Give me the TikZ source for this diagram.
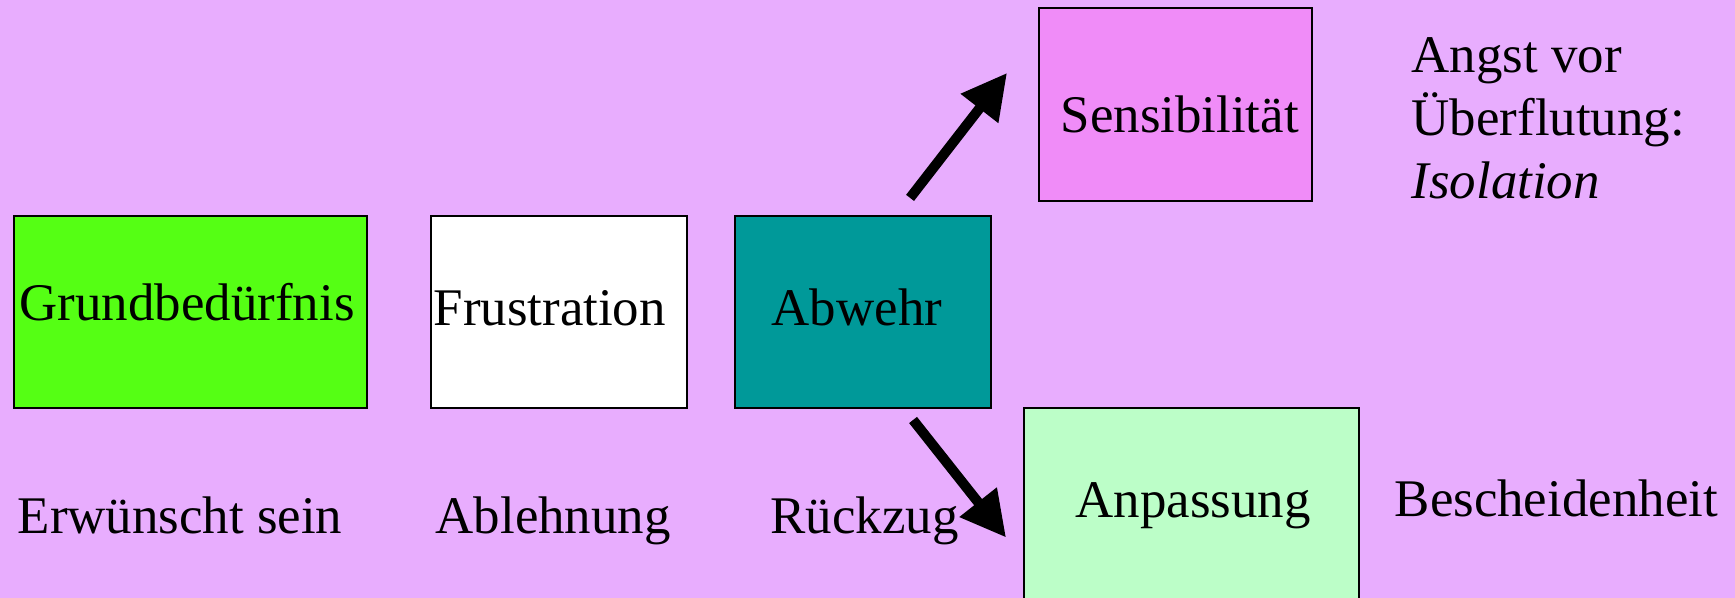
\documentclass[tikz,border=0pt]{standalone}
\usepackage{fontspec}
\setmainfont{Liberation Serif}
\usetikzlibrary{arrows.meta}

\definecolor{bgLilac}{HTML}{E8ADFE}
\definecolor{needGreen}{HTML}{55FF14}
\definecolor{defTeal}{HTML}{009999}
\definecolor{sensPink}{HTML}{F08CF8}
\definecolor{adaptGreen}{HTML}{BCFEC8}

\newcommand\picW{17.35}
\newcommand\picH{5.98}
\newcommand\boxHeight{1.92}
\newcommand\wideBox{3.53}
\newcommand\narrowBox{2.56}
\newcommand\rowBase{1.89}
\newcommand\txtSize{\fontsize{15.05}{17.9}\selectfont}

\tikzset{
  stage/.style={draw=black, line width=0.6pt, inner sep=0pt, anchor=south west, minimum height=\boxHeight cm},
  word/.style={font=\txtSize, inner sep=0pt, anchor=base west},
  bigarrow/.style={line width=2.85pt, -{Triangle[length=0.45cm,width=0.45cm]}}
}

\begin{document}
\begin{tikzpicture}
    \fill[bgLilac] (0,0) rectangle (\picW,\picH);
    \useasboundingbox (0,0) rectangle (\picW,\picH);

    % MIDDLE ROW
    \node[stage, fill=needGreen, minimum width=\wideBox cm] (grund) at (0.13,\rowBase) {};
    \node[stage, fill=white, minimum width=\narrowBox cm] (frus) at (4.30,\rowBase) {};
    \node[stage, fill=defTeal, minimum width=\narrowBox cm] (abwehr) at (7.34,\rowBase) {};

    \node[word] (grundTxt) at (0.19,2.77) {Grundbedürfnis};
    \node[word] (frusTxt) at (4.33,2.72) {Frustration};
    \node[word] (abwehrTxt) at (7.71,2.72) {Abwehr};

    % UPPER AND LOWER BRANCH
    \node[stage, fill=sensPink, minimum width=2.73cm, minimum height=1.93cm] (sens) at (10.38,3.96) {};
    \node[stage, fill=adaptGreen, minimum width=3.35cm, minimum height=1.99cm] (anp) at (10.23,-0.10) {};

    \node[word] (sensTxt) at (10.60,4.65) {Sensibilität};
    \node[word] (anpTxt) at (10.75,0.80) {Anpassung};

    % TEXT BELOW AND BESIDE
    \node[word] (wishTxt) at (0.17,0.64) {Erwünscht sein};
    \node[word] (rejectTxt) at (4.35,0.64) {Ablehnung};
    \node[word] (retreatTxt) at (7.70,0.64) {Rückzug};
    \node[word] (modestTxt) at (13.94,0.81) {Bescheidenheit};
    \node[font=\txtSize, inner sep=0pt, anchor=north west, align=left] (fearTxt) at (14.11,5.61) {Angst vor\\Überflutung:\\\textit{Isolation}};

    % ARROWS
    \coordinate (upStart) at ([shift={(0.47,0.17)}]abwehr.north);
    \coordinate (upEnd) at ([shift={(-0.31,0.315)}]sens.west);
    \coordinate (downStart) at ([shift={(0.50,-0.11)}]abwehr.south);
    \coordinate (downEnd) at ([shift={(-0.17,-0.30)}]anp.west);

    \draw[bigarrow] (upStart) -- (upEnd);
    \draw[bigarrow] (downStart) -- (downEnd);
\end{tikzpicture}
\end{document}
